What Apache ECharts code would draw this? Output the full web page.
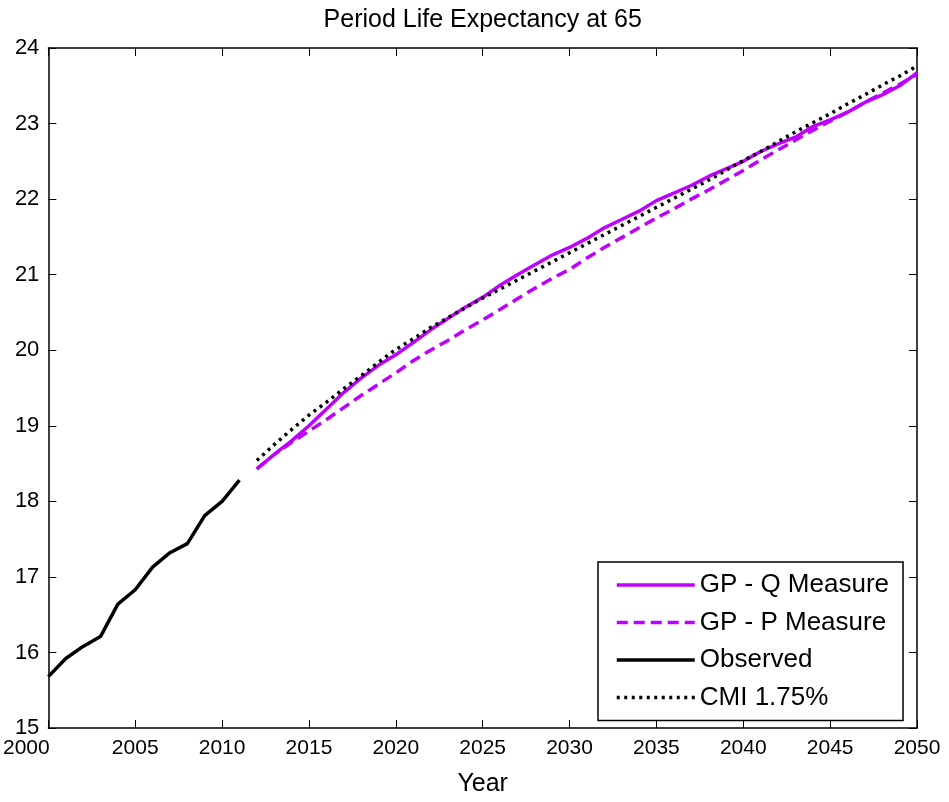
<!DOCTYPE html>
<html>
<head>
<meta charset="utf-8">
<script src="https://cdn.jsdelivr.net/npm/echarts@6/dist/echarts.min.js"></script>
<style>html,body{margin:0;padding:0;background:#fff}#c{width:949px;height:802px}</style>
</head>
<body>
<div id="c"></div>
<script>
const titleText = 'Period Life Expectancy at 65';
const xLabel = 'Year';
const xTicks = [2000, 2005, 2010, 2015, 2020, 2025, 2030, 2035, 2040, 2045, 2050];
const yTicks = [15, 16, 17, 18, 19, 20, 21, 22, 23, 24];
const legendNames = ['GP - Q Measure', 'GP - P Measure', 'Observed', 'CMI 1.75%'];

const observedYears = [2000, 2001, 2002, 2003, 2004, 2005, 2006, 2007, 2008, 2009, 2010, 2011];
const observedValues = [15.68, 15.92, 16.08, 16.21, 16.64, 16.83, 17.13, 17.32, 17.44, 17.81, 18.00, 18.28];

const forecastYears = [2012, 2013, 2014, 2015, 2016, 2017, 2018, 2019, 2020, 2021, 2022, 2023, 2024, 2025,
  2026, 2027, 2028, 2029, 2030, 2031, 2032, 2033, 2034, 2035, 2036, 2037, 2038, 2039, 2040,
  2041, 2042, 2043, 2044, 2045, 2046, 2047, 2048, 2049, 2050];
const qMeasure = [18.43, 18.62, 18.80, 19.00, 19.22, 19.44, 19.63, 19.80, 19.94, 20.10, 20.27, 20.42, 20.57, 20.70,
  20.86, 21.00, 21.13, 21.26, 21.36, 21.48, 21.62, 21.73, 21.84, 21.98, 22.08, 22.18, 22.30, 22.40, 22.50,
  22.63, 22.73, 22.82, 22.96, 23.05, 23.15, 23.28, 23.38, 23.50, 23.67];
const pMeasure = [18.43, 18.62, 18.78, 18.93, 19.08, 19.24, 19.40, 19.55, 19.70, 19.86, 20.00, 20.13, 20.27, 20.40,
  20.54, 20.68, 20.82, 20.95, 21.07, 21.22, 21.36, 21.49, 21.62, 21.75, 21.87, 22.00, 22.12, 22.25, 22.38,
  22.52, 22.65, 22.78, 22.91, 23.03, 23.15, 23.28, 23.40, 23.52, 23.65];
const cmi = [18.54, 18.75, 18.95, 19.14, 19.31, 19.49, 19.66, 19.84, 20.01, 20.15, 20.30, 20.43, 20.56, 20.69,
  20.81, 20.93, 21.05, 21.17, 21.29, 21.41, 21.53, 21.65, 21.77, 21.89, 22.01, 22.13, 22.25, 22.38, 22.51,
  22.63, 22.76, 22.89, 23.01, 23.13, 23.26, 23.38, 23.51, 23.63, 23.76];

const pairs = (xs, ys) => xs.map((x, i) => [x, ys[i]]);
const FONT = 'Liberation Sans';
const MAG = '#bf00ff';

const chart = echarts.init(document.getElementById('c'), null, {renderer: 'canvas'});
const axisCommon = {
  axisLine: {show: true, lineStyle: {color: '#000', width: 1.5}},
  axisTick: {show: true, inside: true, length: 8, lineStyle: {color: '#000', width: 1}},
  splitLine: {show: false}
};
chart.setOption({
  animation: false,
  backgroundColor: '#fff',
  grid: {left: 48, right: 32, top: 48, bottom: 72, containLabel: false},
  xAxis: [
    Object.assign({}, axisCommon, {
      type: 'value', position: 'bottom', min: xTicks[0], max: xTicks[xTicks.length - 1], interval: 5,
      name: xLabel, nameLocation: 'middle', nameGap: 44,
      nameTextStyle: {fontFamily: FONT, fontSize: 25, color: '#000'},
      axisLabel: {
        fontFamily: FONT, fontSize: 21, color: '#000', margin: 10,
        formatter: v => v === xTicks[0] ? '{first|' + v + '}' : String(v),
        rich: {first: {fontFamily: FONT, fontSize: 21, color: '#000', padding: [0, 44, 0, 0]}}
      }
    }),
    Object.assign({}, axisCommon, {
      type: 'value', position: 'top', min: xTicks[0], max: xTicks[xTicks.length - 1], interval: 5,
      name: titleText, nameLocation: 'middle', nameGap: 15,
      nameTextStyle: {fontFamily: FONT, fontSize: 25, color: '#000'},
      axisLabel: {show: false}
    })
  ],
  yAxis: [
    Object.assign({}, axisCommon, {
      type: 'value', position: 'left', min: yTicks[0], max: yTicks[yTicks.length - 1], interval: 1,
      axisLabel: {fontFamily: FONT, fontSize: 22, color: '#000', margin: 9}
    }),
    Object.assign({}, axisCommon, {
      type: 'value', position: 'right', min: yTicks[0], max: yTicks[yTicks.length - 1], interval: 1,
      axisLabel: {show: false}
    })
  ],
  legend: {
    orient: 'vertical', left: 598, top: 562,
    data: legendNames,
    itemWidth: 78, itemHeight: 26, itemGap: 11.5, itemTextGap: 10,
    padding: [10, 14, 10, 17],
    backgroundColor: '#fff', borderColor: '#000', borderWidth: 1.5, borderRadius: 0,
    itemStyle: {opacity: 0},
    lineStyle: {width: 3.5},
    textStyle: {fontFamily: FONT, fontSize: 26, color: '#000'}
  },
  series: [
    {name: legendNames[3], type: 'line', data: pairs(forecastYears, cmi), symbol: 'none', z: 3,
      lineStyle: {color: '#000', width: 3.5, type: [3, 4.5]}, itemStyle: {color: '#000'}},
    {name: legendNames[1], type: 'line', data: pairs(forecastYears, pMeasure), symbol: 'none', z: 2,
      lineStyle: {color: MAG, width: 3.5, type: [11, 6]}, itemStyle: {color: MAG}},
    {name: legendNames[0], type: 'line', data: pairs(forecastYears, qMeasure), symbol: 'none', z: 2,
      lineStyle: {color: MAG, width: 3.5, type: 'solid'}, itemStyle: {color: MAG}},
    {name: legendNames[2], type: 'line', data: pairs(observedYears, observedValues), symbol: 'none', z: 2,
      lineStyle: {color: '#000', width: 3.5, type: 'solid'}, itemStyle: {color: '#000'}}
  ]
});
</script>
</body>
</html>
